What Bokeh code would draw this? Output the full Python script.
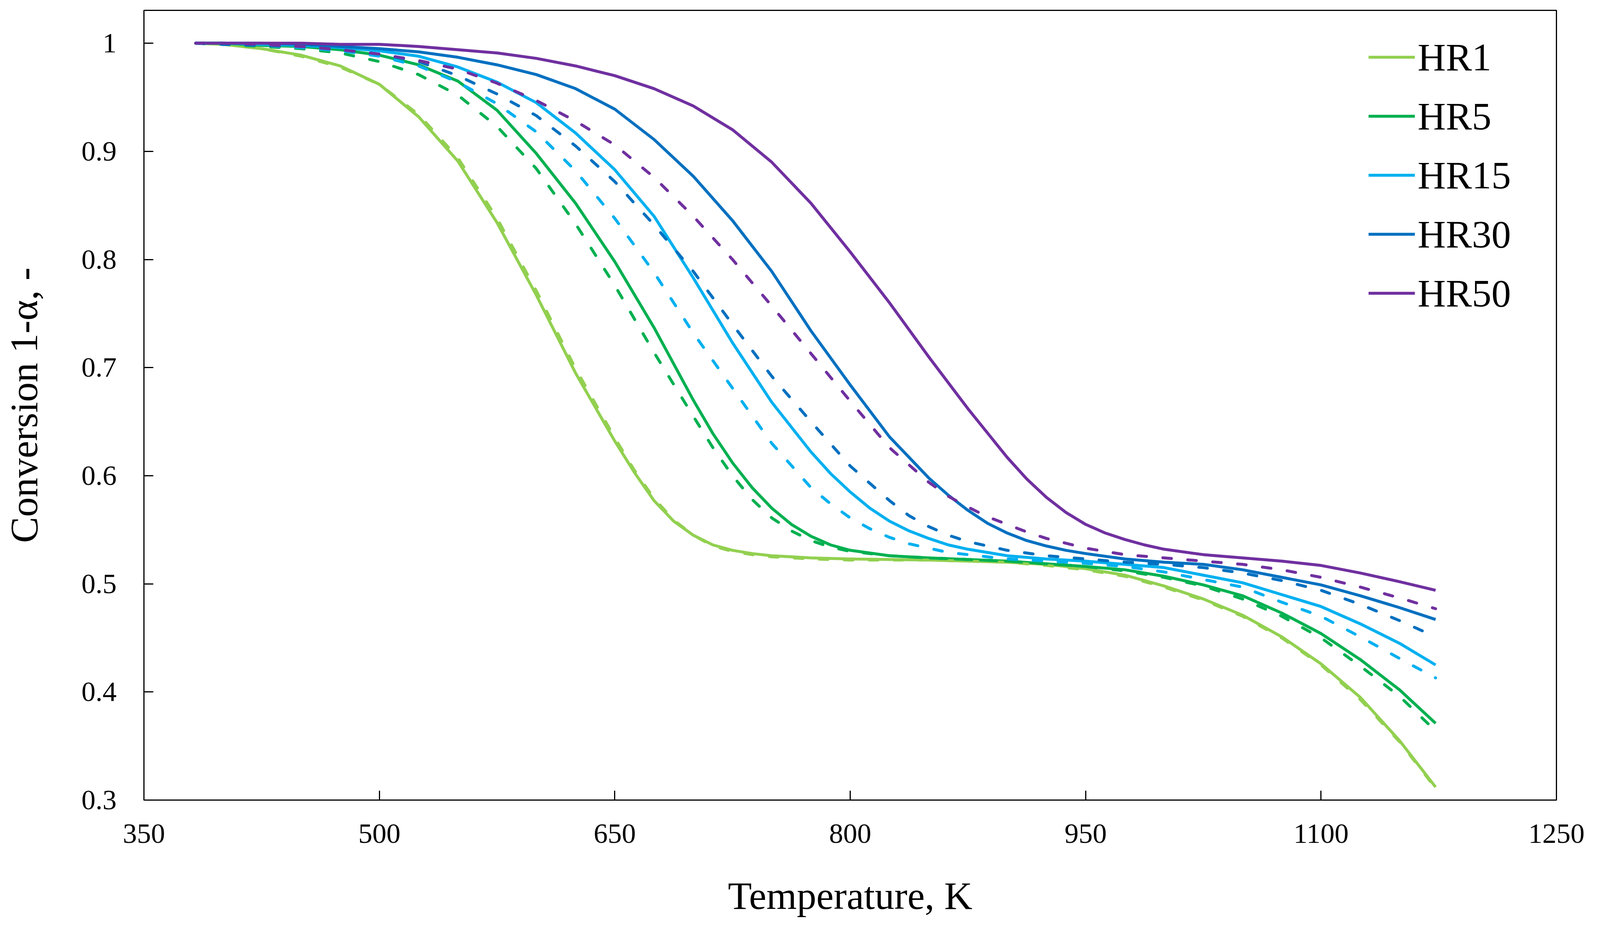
from bokeh.plotting import figure
from bokeh.models import FixedTicker, Legend, LegendItem, Range1d
from bokeh.embed import file_html
from bokeh.resources import INLINE

# ---------------- data ----------------
# HR1
hr1_t = [383, 400, 425, 450, 475, 500, 525, 550, 575, 600, 625, 650, 662.5, 675, 687.5,
         700, 712.5, 725, 737.5, 750, 775, 800, 850, 900, 925, 950, 975, 1000, 1025,
         1050, 1075, 1100, 1125, 1150, 1173]
hr1_exp = [1.000, 0.999, 0.995, 0.989, 0.979, 0.962, 0.932, 0.891, 0.834, 0.767, 0.695,
           0.632, 0.603, 0.577, 0.558, 0.545, 0.536, 0.531, 0.528, 0.526, 0.524, 0.523,
           0.522, 0.520, 0.518, 0.514, 0.508, 0.498, 0.486, 0.471, 0.451, 0.426, 0.395,
           0.355, 0.312]
hr1_model = [1.000, 0.999, 0.995, 0.988, 0.978, 0.962, 0.934, 0.894, 0.838, 0.771, 0.699,
             0.635, 0.605, 0.579, 0.559, 0.545, 0.535, 0.530, 0.527, 0.525, 0.523, 0.522,
             0.522, 0.520, 0.517, 0.513, 0.507, 0.497, 0.485, 0.470, 0.450, 0.425, 0.393,
             0.354, 0.311]

# HR5
hr5_t = [383, 400, 425, 450, 475, 500, 525, 550, 575, 600, 625, 650, 675, 700, 712.5,
         725, 737.5, 750, 762.5, 775, 787.5, 800, 825, 850, 900, 950, 975, 1000, 1025,
         1050, 1075, 1100, 1125, 1150, 1173]
hr5_exp = [1.000, 1.000, 0.998, 0.997, 0.994, 0.989, 0.980, 0.965, 0.938, 0.898, 0.852,
           0.798, 0.737, 0.670, 0.639, 0.612, 0.589, 0.570, 0.555, 0.544, 0.536, 0.531,
           0.526, 0.524, 0.521, 0.516, 0.513, 0.507, 0.499, 0.489, 0.473, 0.454, 0.430,
           0.402, 0.371]
hr5_model = [1.000, 0.999, 0.997, 0.995, 0.991, 0.983, 0.971, 0.952, 0.923, 0.884, 0.833,
             0.776, 0.714, 0.655, 0.626, 0.600, 0.578, 0.561, 0.549, 0.540, 0.534, 0.530,
             0.526, 0.524, 0.521, 0.516, 0.512, 0.506, 0.498, 0.486, 0.470, 0.450, 0.424,
             0.396, 0.364]

# HR15
hr15_t = [383, 400, 425, 450, 475, 500, 525, 550, 575, 600, 625, 650, 675, 700, 725, 750,
          775, 787.5, 800, 812.5, 825, 837.5, 850, 862.5, 875, 900, 925, 950, 975, 1000,
          1025, 1050, 1075, 1100, 1125, 1150, 1173]
hr15_exp = [1.000, 1.000, 0.999, 0.998, 0.996, 0.993, 0.988, 0.978, 0.964, 0.945, 0.917,
            0.883, 0.840, 0.783, 0.723, 0.668, 0.622, 0.602, 0.585, 0.570, 0.558, 0.549,
            0.542, 0.536, 0.532, 0.526, 0.523, 0.521, 0.518, 0.515, 0.508, 0.501, 0.490,
            0.479, 0.463, 0.445, 0.425]
hr15_model = [1.000, 0.999, 0.998, 0.996, 0.993, 0.988, 0.979, 0.964, 0.944, 0.918, 0.882,
              0.838, 0.788, 0.732, 0.681, 0.630, 0.589, 0.574, 0.561, 0.551, 0.543, 0.537,
              0.533, 0.529, 0.527, 0.523, 0.521, 0.519, 0.516, 0.511, 0.504, 0.497, 0.483,
              0.470, 0.451, 0.431, 0.413]

# HR30
hr30_t = [383, 400, 425, 450, 475, 500, 525, 550, 575, 600, 625, 650, 675, 700, 725, 750,
          775, 800, 825, 850, 862.5, 875, 887.5, 900, 912.5, 925, 937.5, 950, 975, 1000,
          1025, 1050, 1075, 1100, 1125, 1150, 1173]
hr30_exp = [1.000, 1.000, 1.000, 0.999, 0.997, 0.995, 0.992, 0.987, 0.980, 0.971, 0.958,
            0.939, 0.911, 0.877, 0.836, 0.789, 0.734, 0.684, 0.636, 0.598, 0.582, 0.568,
            0.556, 0.547, 0.540, 0.535, 0.531, 0.528, 0.523, 0.520, 0.518, 0.513, 0.506,
            0.499, 0.489, 0.478, 0.467]
hr30_model_t = [383, 400, 425, 450, 475, 500, 525, 550, 575, 600, 625, 650, 675, 700, 725,
                750, 775, 800, 825, 837.5, 850, 862.5, 875, 887.5, 900, 925, 950, 975,
                1000, 1025, 1050, 1075, 1100, 1125, 1150, 1173]
hr30_model = [1.000, 0.999, 0.998, 0.997, 0.994, 0.990, 0.983, 0.970, 0.953, 0.933, 0.905,
              0.872, 0.832, 0.789, 0.740, 0.692, 0.650, 0.609, 0.577, 0.563, 0.553, 0.545,
              0.539, 0.535, 0.531, 0.526, 0.523, 0.520, 0.518, 0.515, 0.510, 0.503, 0.494,
              0.481, 0.466, 0.451]

# HR50
hr50_t = [383, 400, 425, 450, 475, 500, 525, 550, 575, 600, 625, 650, 675, 700, 725, 750,
          775, 800, 825, 850, 875, 900, 912.5, 925, 937.5, 950, 962.5, 975, 987.5, 1000,
          1025, 1050, 1075, 1100, 1125, 1150, 1173]
hr50_exp = [1.000, 1.000, 1.000, 1.000, 0.999, 0.999, 0.997, 0.994, 0.991, 0.986, 0.979,
            0.970, 0.958, 0.942, 0.920, 0.890, 0.852, 0.807, 0.760, 0.710, 0.662, 0.617,
            0.597, 0.580, 0.566, 0.555, 0.547, 0.541, 0.536, 0.532, 0.527, 0.524, 0.521,
            0.517, 0.510, 0.502, 0.494]
hr50_model_t = [383, 400, 425, 450, 475, 500, 525, 550, 575, 600, 625, 650, 675, 700, 725,
                750, 775, 800, 825, 850, 862.5, 875, 887.5, 900, 912.5, 925, 950, 975,
                1000, 1025, 1050, 1075, 1100, 1125, 1150, 1173]
hr50_model = [1.000, 1.000, 0.999, 0.997, 0.994, 0.990, 0.984, 0.976, 0.963, 0.947, 0.928,
              0.906, 0.876, 0.840, 0.800, 0.757, 0.713, 0.669, 0.626, 0.594, 0.581, 0.571,
              0.562, 0.555, 0.548, 0.542, 0.533, 0.527, 0.524, 0.521, 0.518, 0.513, 0.506,
              0.497, 0.487, 0.477]

series_names = ["HR1", "HR5", "HR15", "HR30", "HR50"]
series_colors = ["#92D050", "#00B050", "#00B0F0", "#0070C0", "#7030A0"]
exp_series = [(hr1_t, hr1_exp), (hr5_t, hr5_exp), (hr15_t, hr15_exp),
              (hr30_t, hr30_exp), (hr50_t, hr50_exp)]
model_series = [(hr1_t, hr1_model), (hr5_t, hr5_model), (hr15_t, hr15_model),
                (hr30_model_t, hr30_model), (hr50_model_t, hr50_model)]

x_ticks = [350, 500, 650, 800, 950, 1100, 1250]
y_ticks = [0.3, 0.4, 0.5, 0.6, 0.7, 0.8, 0.9, 1.0]
y_tick_labels = ["0.3", "0.4", "0.5", "0.6", "0.7", "0.8", "0.9", "1"]

x_label = "Temperature, K"
y_label = "Conversion 1-\u03b1, -"

# ---------------- figure ----------------
FONT = "Liberation Serif"

p = figure(width=4098, height=2364,
           x_range=Range1d(350, 1250), y_range=Range1d(0.3, 1.0304),
           output_backend="svg", toolbar_location=None,
           min_border_left=368, min_border_right=114,
           min_border_top=26, min_border_bottom=317)
p.background_fill_color = "white"
p.border_fill_color = "white"
p.xgrid.visible = False
p.ygrid.visible = False
p.outline_line_color = "black"
p.outline_line_width = 3
p.outline_line_alpha = 1.0

for ax in (p.xaxis[0], p.yaxis[0]):
    ax.axis_line_width = 3
    ax.axis_line_color = "black"
    ax.major_tick_line_width = 3
    ax.major_tick_line_color = "black"
    ax.major_tick_in = 24
    ax.major_tick_out = 0
    ax.minor_tick_in = 0
    ax.minor_tick_out = 0
    ax.major_label_text_font = FONT
    ax.major_label_text_font_size = "72px"
    ax.major_label_text_color = "black"
    ax.axis_label_text_font = FONT
    ax.axis_label_text_font_size = "100px"
    ax.axis_label_text_font_style = "normal"
    ax.axis_label_text_color = "black"

p.xaxis.ticker = FixedTicker(ticks=x_ticks)
p.xaxis.axis_label = x_label
p.xaxis.major_label_standoff = 62
p.xaxis.axis_label_standoff = 77

p.yaxis.ticker = FixedTicker(ticks=y_ticks)
p.yaxis.major_label_overrides = {t: lab for t, lab in zip(y_ticks, y_tick_labels)}
p.yaxis.axis_label = y_label
p.yaxis.major_label_standoff = 70
p.yaxis.axis_label_standoff = 89

# solid lines (experiment) first, dashed lines (model) on top
solid_renderers = []
for color, (ts, ys) in zip(series_colors, exp_series):
    r = p.line(ts, ys, line_color=color, line_width=7.5, line_join="round")
    solid_renderers.append(r)
for color, (ts, ys) in zip(series_colors, model_series):
    p.line(ts, ys, line_color=color, line_width=7.5, line_dash="22 42",
           line_cap="round", line_join="round")

legend = Legend(
    items=[LegendItem(label=n, renderers=[r]) for n, r in zip(series_names, solid_renderers)],
    location=(3135, 1237),
    orientation="vertical",
    glyph_width=119, glyph_height=120, label_height=120,
    label_standoff=7, spacing=31, padding=0, margin=0,
    border_line_alpha=0, background_fill_alpha=0,
    label_text_font=FONT, label_text_font_size="100px", label_text_color="black",
)
p.add_layout(legend)

open("out.html", "w").write(file_html(p, INLINE))
